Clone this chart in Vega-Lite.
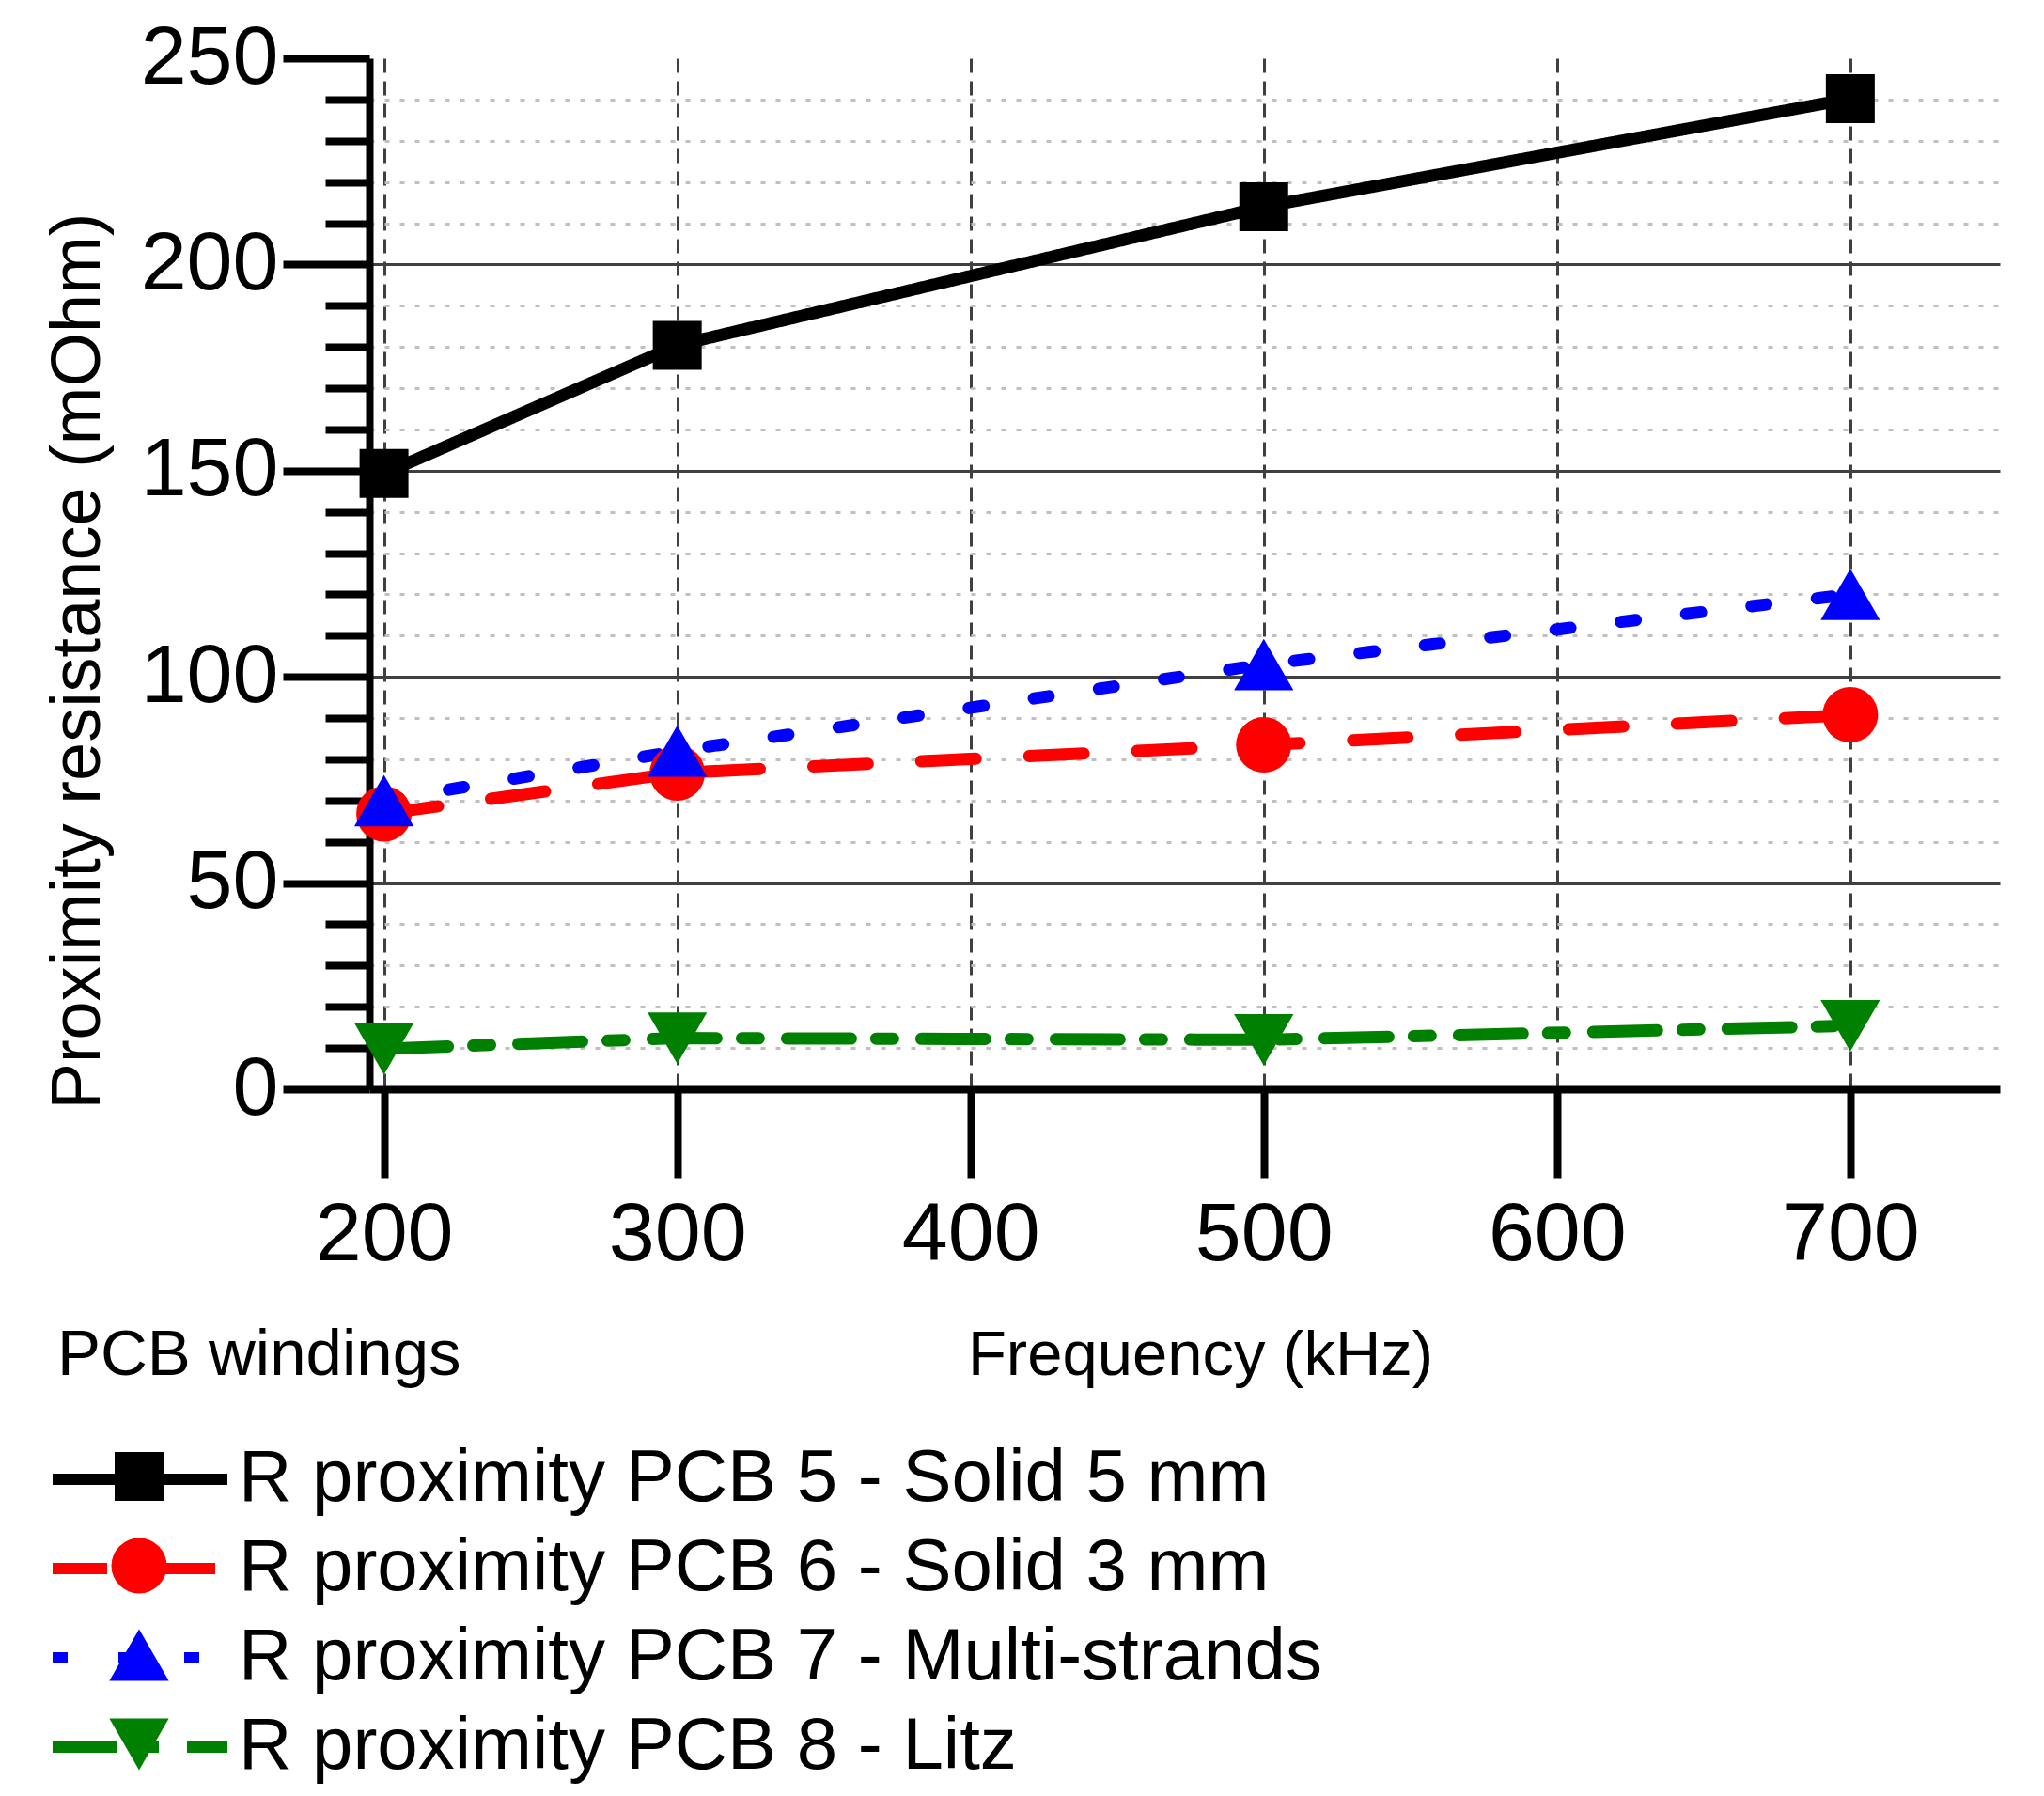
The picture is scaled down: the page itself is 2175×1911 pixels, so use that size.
{
  "$schema": "https://vega.github.io/schema/vega-lite/v6.json",
  "width": 1735,
  "height": 1097,
  "autosize": {"type": "none"},
  "padding": {"left": 393, "top": 62, "right": 47, "bottom": 752},
  "background": "white",
  "config": {
    "font": "Liberation Sans",
    "view": {"stroke": null},
    "axis": {"titleFontWeight": "normal", "labelColor": "black", "titleColor": "black"},
    "legend": {"titleFontWeight": "normal", "labelColor": "black", "titleColor": "black"}
  },
  "data": {
    "values": [
      {"series": "R proximity PCB 5 - Solid 5 mm", "f": 200, "r": 149.3},
      {"series": "R proximity PCB 5 - Solid 5 mm", "f": 300, "r": 180.4},
      {"series": "R proximity PCB 5 - Solid 5 mm", "f": 500, "r": 214.0},
      {"series": "R proximity PCB 5 - Solid 5 mm", "f": 700, "r": 240.2},
      {"series": "R proximity PCB 6 - Solid 3 mm", "f": 200, "r": 66.8},
      {"series": "R proximity PCB 6 - Solid 3 mm", "f": 300, "r": 76.7},
      {"series": "R proximity PCB 6 - Solid 3 mm", "f": 500, "r": 83.5},
      {"series": "R proximity PCB 6 - Solid 3 mm", "f": 700, "r": 90.8},
      {"series": "R proximity PCB 7 - Multi-strands", "f": 200, "r": 70.0},
      {"series": "R proximity PCB 7 - Multi-strands", "f": 300, "r": 82.0},
      {"series": "R proximity PCB 7 - Multi-strands", "f": 500, "r": 103.0},
      {"series": "R proximity PCB 7 - Multi-strands", "f": 700, "r": 120.0},
      {"series": "R proximity PCB 8 - Litz", "f": 200, "r": 9.8},
      {"series": "R proximity PCB 8 - Litz", "f": 300, "r": 12.4},
      {"series": "R proximity PCB 8 - Litz", "f": 500, "r": 12.0},
      {"series": "R proximity PCB 8 - Litz", "f": 700, "r": 15.4}
    ]
  },
  "encoding": {
    "x": {
      "field": "f", "type": "quantitative",
      "scale": {"domain": [195, 751], "nice": false, "zero": false},
      "axis": {
        "values": [200, 300, 400, 500, 600, 700],
        "title": "Frequency (kHz)",
        "titleFontSize": 67,
        "titleX": 884, "titleY": 303, "titleBaseline": "alphabetic", "titleAlign": "center",
        "labelFontSize": 88, "labelPadding": 17,
        "tickSize": 94, "tickWidth": 8, "tickColor": "black",
        "domainColor": "black", "domainWidth": 8,
        "grid": true, "gridColor": "#404040", "gridWidth": 3, "gridDash": [15, 9],
        "labelFlush": false, "labelOverlap": false
      }
    },
    "y": {
      "field": "r", "type": "quantitative",
      "scale": {"domain": [0, 250], "nice": false, "zero": true},
      "axis": {
        "values": [0, 10, 20, 30, 40, 50, 60, 70, 80, 90, 100, 110, 120, 130, 140, 150, 160, 170, 180, 190, 200, 210, 220, 230, 240, 250],
        "labelExpr": "datum.value % 50 === 0 ? datum.label : ''",
        "title": "Proximity resistance (mOhm)",
        "titleFontSize": 74,
        "titleX": -310, "titleY": 641, "titleBaseline": "middle", "titleAlign": "center", "titleAngle": 270,
        "labelFontSize": 88, "labelPadding": 5,
        "tickSize": {"condition": {"test": "datum.value % 50 !== 0", "value": 47}, "value": 92},
        "tickWidth": 8, "tickColor": "black",
        "domainColor": "black", "domainWidth": 8,
        "grid": true,
        "gridColor": {"condition": {"test": "datum.value % 50 !== 0", "value": "#c0c0c0"}, "value": "#404040"},
        "gridDash": {"condition": {"test": "datum.value % 50 !== 0", "value": [5, 11]}, "value": []},
        "gridOpacity": {"condition": {"test": "datum.value === 250 || datum.value === 0", "value": 0}, "value": 1},
        "gridWidth": 3,
        "labelFlush": false, "labelOverlap": false
      }
    }
  },
  "layer": [
    {
      "mark": {"type": "line", "interpolate": "linear", "strokeWidth": 13, "strokeCap": "round", "strokeJoin": "round"},
      "encoding": {
        "color": {
          "field": "series", "type": "nominal",
          "scale": {
            "domain": ["R proximity PCB 5 - Solid 5 mm", "R proximity PCB 6 - Solid 3 mm", "R proximity PCB 7 - Multi-strands", "R proximity PCB 8 - Litz"],
            "range": ["#000000", "#ff0000", "#0000ff", "#008000"]
          },
          "legend": {
            "orient": "none", "legendX": -332, "legendY": 1346,
            "title": "PCB windings", "titleFontSize": 69, "titlePadding": 58, "titleLimit": 3000,
            "symbolType": "M-3,0H3", "symbolSize": 3844, "symbolStrokeWidth": 12, "symbolOffset": 49,
            "labelFontSize": 78, "labelOffset": 66, "labelLimit": 3000,
            "rowPadding": 17, "padding": 0
          }
        },
        "strokeDash": {
          "field": "series", "type": "nominal",
          "scale": {
            "domain": ["R proximity PCB 5 - Solid 5 mm", "R proximity PCB 6 - Solid 3 mm", "R proximity PCB 7 - Multi-strands", "R proximity PCB 8 - Litz"],
            "range": [[1, 0], [58, 57], [16, 54], [68, 27, 18, 30]]
          }
        }
      }
    },
    {
      "mark": {"type": "point", "filled": true, "opacity": 1},
      "encoding": {
        "color": {
          "field": "series", "type": "nominal",
          "scale": {
            "domain": ["R proximity PCB 5 - Solid 5 mm", "R proximity PCB 6 - Solid 3 mm", "R proximity PCB 7 - Multi-strands", "R proximity PCB 8 - Litz"],
            "range": ["#000000", "#ff0000", "#0000ff", "#008000"]
          },
          "legend": {
            "orient": "none", "legendX": -284, "legendY": 1470,
            "title": null,
            "labelFontSize": 78, "labelExpr": "''", "labelOffset": 21,
            "rowPadding": 17, "padding": 0, "symbolOpacity": 1
          }
        },
        "shape": {
          "field": "series", "type": "nominal",
          "scale": {
            "domain": ["R proximity PCB 5 - Solid 5 mm", "R proximity PCB 6 - Solid 3 mm", "R proximity PCB 7 - Multi-strands", "R proximity PCB 8 - Litz"],
            "range": ["square", "circle", "triangle-up", "triangle-down"]
          }
        },
        "size": {
          "field": "series", "type": "nominal",
          "scale": {
            "type": "ordinal",
            "domain": ["R proximity PCB 5 - Solid 5 mm", "R proximity PCB 6 - Solid 3 mm", "R proximity PCB 7 - Multi-strands", "R proximity PCB 8 - Litz"],
            "range": [2704, 3481, 4000, 4000]
          }
        }
      }
    }
  ],
  "resolve": {
    "scale": {"color": "independent", "shape": "independent", "strokeDash": "independent", "size": "independent"},
    "legend": {"color": "independent", "shape": "independent", "strokeDash": "independent", "size": "independent"}
  }
}
